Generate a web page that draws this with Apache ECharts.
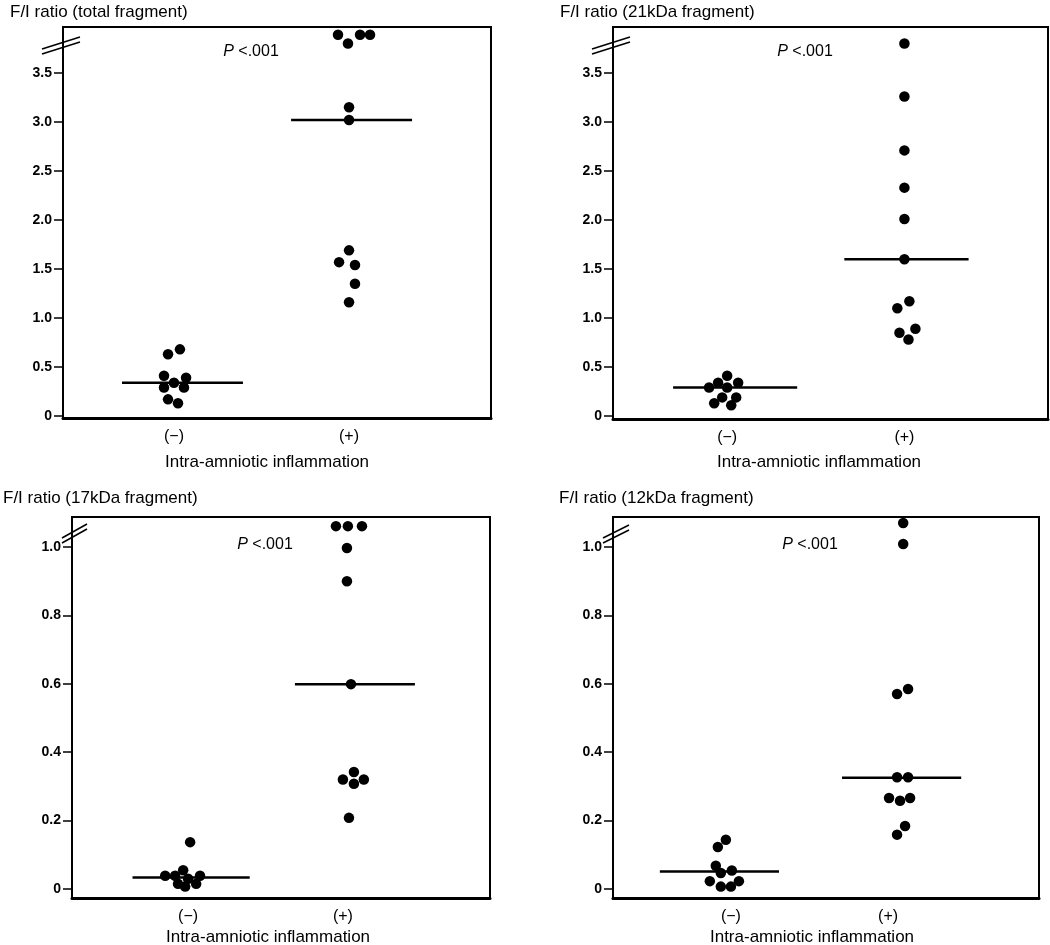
<!DOCTYPE html>
<html>
<head>
<meta charset="utf-8">
<script src="https://cdn.jsdelivr.net/npm/echarts@6/dist/echarts.min.js"></script>
<style>
html,body{margin:0;padding:0;background:#fff;}
#chart{width:1050px;height:945px;}
</style>
</head>
<body>
<div id="chart"></div>
<script>
// ---------- data ----------
const categories = ['(\u2212)', '(+)'];
const panelTitles = ['F/I ratio (total fragment)', 'F/I ratio (21kDa fragment)', 'F/I ratio (17kDa fragment)', 'F/I ratio (12kDa fragment)'];
const pValueText = '<.001';
const xAxisName = 'Intra-amniotic inflammation';
const ticksLarge = [0, 0.5, 1.0, 1.5, 2.0, 2.5, 3.0, 3.5];
const ticksSmall = [0, 0.2, 0.4, 0.6, 0.8, 1.0];

const totalNeg = [0.63, 0.68, 0.41, 0.39, 0.34, 0.29, 0.29, 0.17, 0.13];
const totalNegJitter = [-0.034, 0.034, -0.057, 0.069, 0, -0.057, 0.057, -0.034, 0.023];
const totalPos = [3.89, 3.80, 3.89, 3.89, 3.15, 3.02, 1.69, 1.57, 1.54, 1.35, 1.16];
const totalPosJitter = [-0.063, -0.006, 0.063, 0.12, 0, 0, 0, -0.057, 0.034, 0.034, 0];
const totalMedians = [0.34, 3.02];

const kda21Neg = [0.41, 0.34, 0.34, 0.29, 0.29, 0.19, 0.19, 0.13, 0.11];
const kda21NegJitter = [0, -0.051, 0.062, -0.102, 0, -0.028, 0.051, -0.073, 0.023];
const kda21Pos = [3.80, 3.26, 2.71, 2.33, 2.01, 1.60, 1.17, 1.10, 0.89, 0.85, 0.78];
const kda21PosJitter = [0, 0, 0, 0, 0, 0, 0.028, -0.040, 0.062, -0.028, 0.023];
const kda21Medians = [0.29, 1.60];

const kda17Neg = [0.137, 0.055, 0.039, 0.039, 0.039, 0.030, 0.015, 0.015, 0.007];
const kda17NegJitter = [0.013, -0.032, -0.148, -0.084, 0.077, 0, -0.065, 0.052, -0.019];
const kda17Pos = [1.061, 1.061, 1.061, 0.997, 0.90, 0.599, 0.342, 0.320, 0.320, 0.308, 0.208];
const kda17PosJitter = [-0.045, 0.032, 0.123, 0.026, 0.026, 0.052, 0.071, 0, 0.135, 0.071, 0.039];
const kda17Medians = [0.034, 0.599];

const kda12Neg = [0.144, 0.123, 0.068, 0.054, 0.047, 0.023, 0.023, 0.007, 0.007];
const kda12NegJitter = [-0.032, -0.083, -0.096, 0.006, -0.064, -0.134, 0.051, -0.064, 0];
const kda12Pos = [1.070, 1.009, 0.585, 0.570, 0.327, 0.327, 0.266, 0.258, 0.266, 0.184, 0.159];
const kda12PosJitter = [0.096, 0.096, 0.127, 0.057, 0.057, 0.127, 0.006, 0.076, 0.14, 0.108, 0.057];
const kda12Medians = [0.051, 0.325];

// ---------- layout ----------
const FONT = '"Liberation Sans", Arial, sans-serif';
const panels = [
  { neg: totalNeg, negJ: totalNegJitter, pos: totalPos, posJ: totalPosJitter, med: totalMedians, ticks: ticksLarge,
    grid: { left: 63, top: 27, width: 428, height: 391 }, y: [-0.0204, 3.969], x: [0.366, 2.811],
    span: [[-0.297, 0.394], [-0.331, 0.36]],
    title: [10, 12], p: [251, 52], name: [267, 462], brk: [[-21, 22, 17, 10], [-21, 27, 17, 15]] },
  { neg: kda21Neg, negJ: kda21NegJitter, pos: kda21Pos, posJ: kda21PosJitter, med: kda21Medians, ticks: ticksLarge,
    grid: { left: 613, top: 27, width: 435, height: 392 }, y: [-0.0306, 3.969], x: [0.356, 2.81],
    span: [[-0.305, 0.395], [-0.339, 0.362]],
    title: [560, 12], p: [805, 52], name: [819, 462], brk: [[-21, 22, 17, 10], [-21, 27, 17, 15]] },
  { neg: kda17Neg, negJ: kda17NegJitter, pos: kda17Pos, posJ: kda17PosJitter, med: kda17Medians, ticks: ticksSmall,
    grid: { left: 72, top: 517, width: 418, height: 381 }, y: [-0.0263, 1.0877], x: [0.25, 2.95],
    span: [[-0.359, 0.398], [-0.31, 0.465]],
    title: [3, 498], p: [265, 545], name: [268, 937], brk: [[-10, 21, 15, 7], [-10, 26, 15, 12]] },
  { neg: kda12Neg, negJ: kda12NegJitter, pos: kda12Pos, posJ: kda12PosJitter, med: kda12Medians, ticks: ticksSmall,
    grid: { left: 613, top: 517, width: 426, height: 381 }, y: [-0.0263, 1.0877], x: [0.25, 2.96],
    span: [[-0.452, 0.306], [-0.293, 0.465]],
    title: [559, 498], p: [810, 545], name: [812, 937], brk: [[-10, 21, 16, 8], [-10, 26, 16, 13]] }
];

const grids = [], xAxes = [], yAxes = [], series = [], graphics = [];
panels.forEach((pn, i) => {
  grids.push(Object.assign({ show: true, borderColor: '#000', borderWidth: 2, backgroundColor: 'transparent', containLabel: false, outerBoundsMode: 'none' }, pn.grid));
  xAxes.push({
    type: 'value', gridIndex: i, min: pn.x[0], max: pn.x[1],
    axisLine: { show: true, onZero: false, lineStyle: { color: '#000', width: 3 } },
    axisTick: { show: false }, splitLine: { show: false },
    axisLabel: { customValues: [1, 2], formatter: v => categories[Math.round(v) - 1], fontSize: 16, color: '#000', fontFamily: FONT, margin: 11 }
  });
  yAxes.push({
    type: 'value', gridIndex: i, min: pn.y[0], max: pn.y[1],
    axisLine: { show: true, onZero: false, lineStyle: { color: '#000', width: 2 } },
    axisTick: { show: true, customValues: pn.ticks, length: 9, lineStyle: { color: '#000', width: 1.5 } },
    splitLine: { show: false },
    axisLabel: { customValues: pn.ticks, formatter: v => (v === 0 ? '0' : v.toFixed(1)), fontSize: 14, fontWeight: 'bold', color: '#000', fontFamily: FONT, margin: 11 }
  });
  const groups = [[pn.neg, pn.negJ], [pn.pos, pn.posJ]];
  groups.forEach((g, gi) => {
    const c = gi + 1;
    series.push({
      type: 'scatter', xAxisIndex: i, yAxisIndex: i, symbolSize: 10.5, silent: true,
      itemStyle: { color: '#000', opacity: 1 },
      data: g[0].map((v, k) => [c + g[1][k], v]), z: 3
    });
    series.push({
      type: 'line', xAxisIndex: i, yAxisIndex: i, showSymbol: false, silent: true,
      lineStyle: { color: '#000', width: 2.5 },
      data: [[c + pn.span[gi][0], pn.med[gi]], [c + pn.span[gi][1], pn.med[gi]]], z: 2
    });
  });
  graphics.push({ type: 'text', x: pn.title[0], y: pn.title[1], style: { text: panelTitles[i], font: '17px ' + FONT, fill: '#000', textAlign: 'left', textVerticalAlign: 'middle' } });
  graphics.push({ type: 'text', x: pn.p[0], y: pn.p[1], style: {
    text: '{i|P} ' + pValueText, font: '16px ' + FONT, fill: '#000', textAlign: 'center', textVerticalAlign: 'middle',
    rich: { i: { fontStyle: 'italic', fontSize: 16, fontFamily: FONT } } } });
  graphics.push({ type: 'text', x: pn.name[0], y: pn.name[1], style: { text: xAxisName, font: '17px ' + FONT, fill: '#000', textAlign: 'center', textVerticalAlign: 'middle' } });
  pn.brk.forEach(b => {
    graphics.push({ type: 'line', shape: { x1: pn.grid.left + b[0], y1: pn.grid.top + b[1], x2: pn.grid.left + b[2], y2: pn.grid.top + b[3] },
      style: { stroke: '#000', lineWidth: 1.5 }, z: 10 });
  });
});

const chart = echarts.init(document.getElementById('chart'), null, { renderer: 'canvas' });
chart.setOption({
  backgroundColor: '#fff',
  animation: false,
  grid: grids, xAxis: xAxes, yAxis: yAxes, series: series, graphic: graphics
});
</script>
</body>
</html>
